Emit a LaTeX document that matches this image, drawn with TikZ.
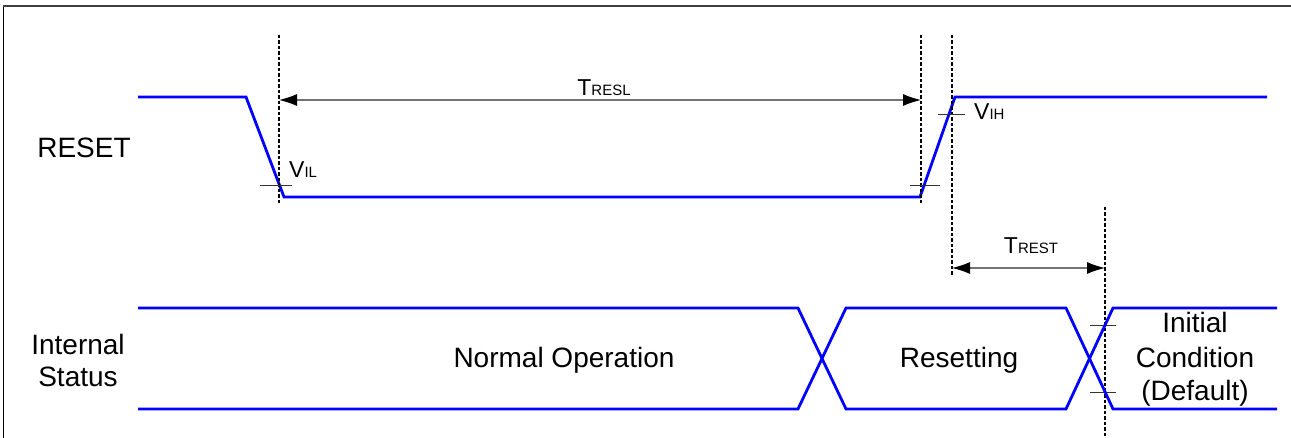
\documentclass[tikz,border=0pt]{standalone}
\usepackage{fontspec}
\setmainfont{Liberation Sans}
\usetikzlibrary{arrows.meta}
\definecolor{sigblue}{RGB}{0,0,255}
\tikzset{
  sig/.style={draw=sigblue, line width=2.8pt, line join=miter},
  guide/.style={draw=black, line width=1.2pt, dash pattern=on 3.5pt off 2pt},
  tick/.style={draw=black!80, line width=0.8pt},
  dimarrow/.style={draw=black!55, line width=1.2pt, {Latex[length=18pt,width=12pt,black]}-{Latex[length=18pt,width=12pt,black]}},
  lbl/.style={font=\fontsize{28}{33}\selectfont, inner sep=0pt, anchor=base},
  sublbl/.style={inner sep=0pt, anchor=base west},
}
\newcommand{\bigT}[1]{{\fontsize{23}{26}\selectfont #1}}
\newcommand{\smallsub}[1]{{\fontsize{15}{18}\selectfont #1}}
\begin{document}
\begin{tikzpicture}[x=1pt,y=-1pt]
\useasboundingbox (0,0) rectangle (1291,438);
% frame
\draw[black, line width=0.9pt] (3,438) -- (3,6);
\draw[black!75, line width=2pt] (3,6) -- (1291,6);

% RESET waveform
\coordinate (r0) at (138,97);
\coordinate (r1) at (246,97);
\coordinate (r2) at (284,197);
\coordinate (r3) at (920,197);
\coordinate (r4) at (955,97);
\coordinate (r5) at (1267,97);
\draw[sig] (r0) -- (r1) -- (r2) -- (r3) -- (r4) -- (r5);

% guides
\coordinate (g1t) at (279,35);  \coordinate (g1b) at (279,203);
\coordinate (g2t) at (921,35);  \coordinate (g2b) at (921,203);
\coordinate (g3t) at (952,35);  \coordinate (g3b) at (952,276);
\coordinate (g4t) at (1105,207); \coordinate (g4b) at (1105,438);
\draw[guide] (g1t) -- (g1b);
\draw[guide] (g2t) -- (g2b);
\draw[guide] (g3t) -- (g3b);
\draw[guide] (g4t) -- (g4b);

% ticks
\coordinate (t1a) at (260,185); \coordinate (t1b) at (292,185);
\coordinate (t2a) at (910,185); \coordinate (t2b) at (940,185);
\coordinate (t3a) at (938,114); \coordinate (t3b) at (965,114);
\coordinate (t4a) at (1090,325); \coordinate (t4b) at (1116,325);
\coordinate (t5a) at (1090,392); \coordinate (t5b) at (1116,392);
\draw[tick] (t1a) -- (t1b);
\draw[tick] (t2a) -- (t2b);
\draw[tick] (t3a) -- (t3b);
\draw[tick] (t4a) -- (t4b);
\draw[tick] (t5a) -- (t5b);

% dimension arrows
\coordinate (a1l) at (279,100); \coordinate (a1r) at (921,100);
\coordinate (a2l) at (952,268); \coordinate (a2r) at (1105,268);
\draw[dimarrow] (a1l) -- (a1r);
\draw[dimarrow] (a2l) -- (a2r);
\node[lbl] (tresl) at (604,96) {\bigT{T}\smallsub{RESL}};
\node[lbl] (trest) at (1031,254) {\bigT{T}\smallsub{REST}};
\node[sublbl] (vil) at (289,178) {\bigT{V}\smallsub{IL}};
\node[sublbl] (vih) at (974,120) {\bigT{V}\smallsub{IH}};

% Internal status waveform
\coordinate (s0) at (138,308);
\coordinate (s1) at (798,308);
\coordinate (s2) at (846,409);
\coordinate (s3) at (1066,409);
\coordinate (s4) at (1113,308);
\coordinate (s5) at (1277,308);
\coordinate (u0) at (138,409);
\coordinate (u1) at (798,409);
\coordinate (u2) at (846,308);
\coordinate (u3) at (1066,308);
\coordinate (u4) at (1113,409);
\coordinate (u5) at (1277,409);
\draw[sig] (s0) -- (s1) -- (s2) -- (s3) -- (s4) -- (s5);
\draw[sig] (u0) -- (u1) -- (u2) -- (u3) -- (u4) -- (u5);

% labels
\node[lbl] (reset) at (84,158) {RESET};
\node[lbl] (int1) at (78,355) {Internal};
\node[lbl] (int2) at (78,387) {Status};
\node[lbl] (normal) at (564,367) {Normal Operation};
\node[lbl] (resetting) at (959,367) {Resetting};
\node[lbl] (init1) at (1195,333) {Initial};
\node[lbl] (init2) at (1195,367) {Condition};
\node[lbl] (init3) at (1195,400) {(Default)};
\end{tikzpicture}
\end{document}
